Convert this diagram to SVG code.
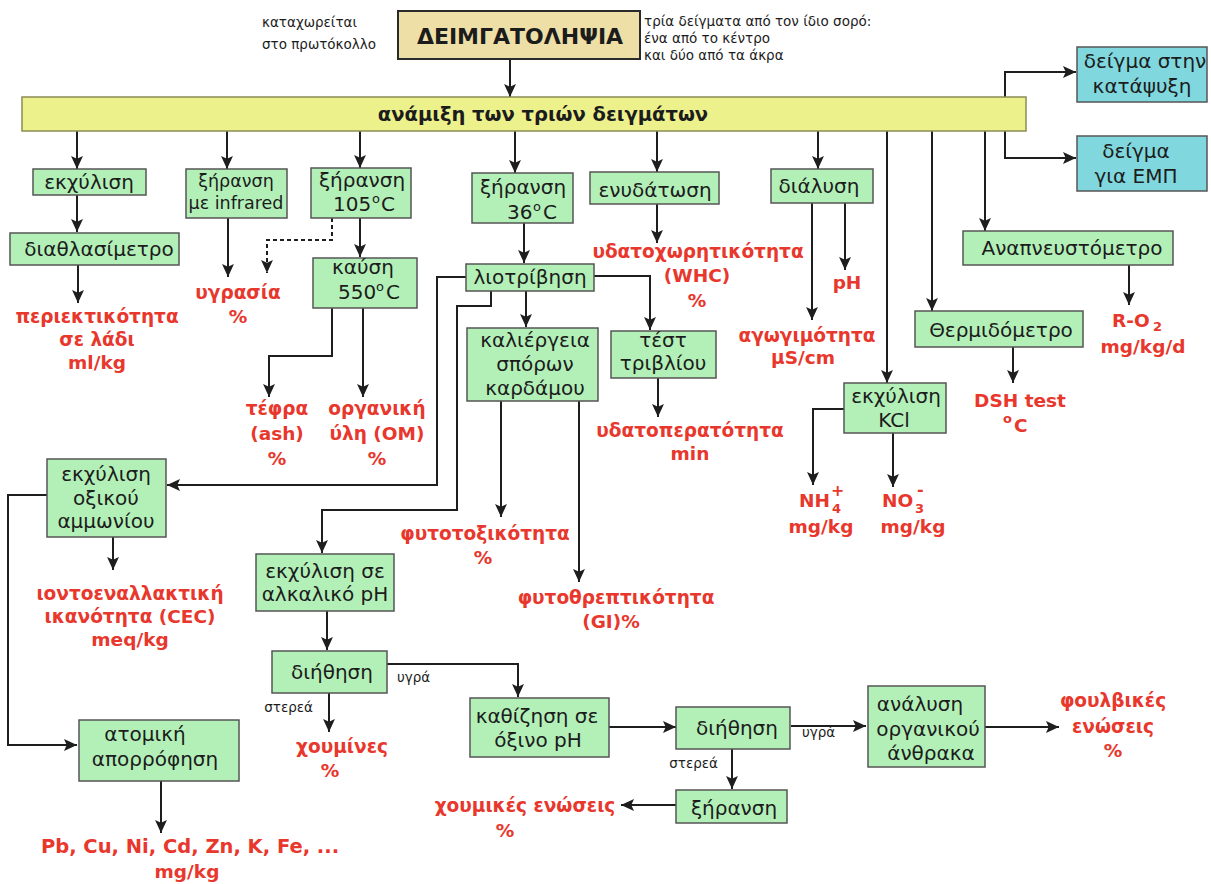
<svg xmlns="http://www.w3.org/2000/svg" width="1211" height="884" viewBox="0 0 1211 884">
  <defs>
    <style>
      .bx { fill: #b3f0b8; stroke: #555; stroke-width: 1.5; }
      .cy { fill: #80d8de; stroke: #555; stroke-width: 1.5; }
      .t { font-family: "DejaVu Sans", "Liberation Sans", sans-serif; font-size: 20px; fill: #1c1c1c; text-anchor: middle; }
      .ts { font-family: "DejaVu Sans", "Liberation Sans", sans-serif; font-size: 20px; fill: #1c1c1c; }
      .sup { font-family: "DejaVu Sans", "Liberation Sans", sans-serif; font-size: 13px; fill: #1c1c1c; }
      .s { font-family: "DejaVu Sans", "Liberation Sans", sans-serif; font-size: 13.5px; fill: #1c1c1c; }
      .r { font-family: "DejaVu Sans", "Liberation Sans", sans-serif; font-size: 18.5px; font-weight: bold; fill: #e8372c; text-anchor: middle; }
      .rs { font-family: "DejaVu Sans", "Liberation Sans", sans-serif; font-weight: bold; fill: #e8372c; }
      .ln { fill: none; stroke: #1e1e1e; stroke-width: 2; marker-end: url(#ah); }
      .dash { stroke-dasharray: 4 3; }
    </style>
    <marker id="ah" viewBox="0 0 12 12" refX="12" refY="6" markerWidth="13" markerHeight="13" markerUnits="userSpaceOnUse" orient="auto">
      <path d="M0,0.5 L12,6 L0,11.5 L2.5,6 z" fill="#1e1e1e"/>
    </marker>
  </defs>

  <rect width="1211" height="884" fill="#ffffff"/>

  <!-- notes around the sampling box -->
  <g id="notes">
    <text class="s" x="262" y="27">καταχωρείται</text>
    <text class="s" x="262" y="49">στο πρωτόκολλο</text>
    <text class="s" x="644" y="26">τρία δείγματα από τον ίδιο σορό:</text>
    <text class="s" x="644" y="43">ένα από το κέντρο</text>
    <text class="s" x="644" y="60">και δύο από τα άκρα</text>
  </g>

  <!-- connectors -->
  <g id="connectors">
    <path class="ln" d="M510,59 V97"/>
    <path class="ln" d="M1005,97 V72 H1076"/>
    <path class="ln" d="M1005,131 V158 H1076"/>
    <path class="ln" d="M77,131 V169"/>
    <path class="ln" d="M227,131 V169"/>
    <path class="ln" d="M360,131 V168"/>
    <path class="ln" d="M515,131 V173"/>
    <path class="ln" d="M657,131 V172"/>
    <path class="ln" d="M818,131 V169"/>
    <path class="ln" d="M887,131 V383"/>
    <path class="ln" d="M932,131 V311"/>
    <path class="ln" d="M985,131 V231"/>
    <path class="ln" d="M77,195 V232"/>
    <path class="ln" d="M78,265 V303"/>
    <path class="ln" d="M228,218 V277"/>
    <path class="ln dash" d="M332,218 V240 H267 V273"/>
    <path class="ln" d="M360,218 V257"/>
    <path class="ln" d="M332,308 V356 H269 V397"/>
    <path class="ln" d="M363,308 V397"/>
    <path class="ln" d="M524,223 V263"/>
    <path class="ln" d="M594,276 H650 V330"/>
    <path class="ln" d="M526,291 V327"/>
    <path class="ln" d="M466,277 H437 V485 H167"/>
    <path class="ln" d="M491,291 V306 H457 V510 H322 V553"/>
    <path class="ln" d="M501,401 V517"/>
    <path class="ln" d="M579,401 V582"/>
    <path class="ln" d="M658,378 V417"/>
    <path class="ln" d="M657,204 V243"/>
    <path class="ln" d="M812,203 V320"/>
    <path class="ln" d="M845,203 V270"/>
    <path class="ln" d="M844,409 H813 V485"/>
    <path class="ln" d="M893,433 V487"/>
    <path class="ln" d="M1013,347 V383"/>
    <path class="ln" d="M1129,265 V305"/>
    <path class="ln" d="M113,537 V570"/>
    <path class="ln" d="M47,495 H8 V745 H77"/>
    <path class="ln" d="M161,781 V833"/>
    <path class="ln" d="M327,611 V650"/>
    <path class="ln" d="M387,664 H518 V697"/>
    <path class="ln" d="M329,693 V732"/>
    <path class="ln" d="M609,727 H676"/>
    <path class="ln" d="M791,726 H866"/>
    <path class="ln" d="M732,749 V789"/>
    <path class="ln" d="M676,805 H621"/>
    <path class="ln" d="M985,727 H1059"/>
  </g>

  <!-- edge labels -->
  <g id="edge-labels">
    <text class="s" x="397" y="682">υγρά</text>
    <text class="s" x="313" y="712" text-anchor="end">στερεά</text>
    <text class="s" x="802" y="737">υγρά</text>
    <text class="s" x="718" y="768" text-anchor="end">στερεά</text>
  </g>

  <!-- process nodes -->
  <g id="sampling">
    <rect x="398" y="11" width="242" height="48" fill="#eedfa6" stroke="#2a2a2a" stroke-width="2"/>
    <text class="t" x="520" y="44" style="font-size:22px;font-weight:bold">ΔΕΙΜΓΑΤΟΛΗΨΙΑ</text>
  </g>
  <g id="mixing">
    <rect x="22" y="97" width="1004" height="34" fill="#edf18c" stroke="#8c8c55" stroke-width="1.5"/>
    <text class="t" x="543" y="121" style="font-size:19.5px;font-weight:bold">ανάμιξη των τριών δειγμάτων</text>
  </g>
  <g id="freezer">
    <rect class="cy" x="1077" y="47" width="130" height="55"/>
    <text class="t" x="1145" y="68">δείγμα στην</text>
    <text class="t" x="1142" y="93">κατάψυξη</text>
  </g>
  <g id="emp-sample">
    <rect class="cy" x="1077" y="136" width="130" height="55"/>
    <text class="t" x="1136" y="158">δείγμα</text>
    <text class="t" x="1136" y="183">για ΕΜΠ</text>
  </g>
  <g id="extraction">
    <rect class="bx" x="33" y="169" width="113" height="26"/>
    <text class="t" x="89" y="189">εκχύλιση</text>
  </g>
  <g id="refractometer">
    <rect class="bx" x="10" y="233" width="169" height="32"/>
    <text class="t" x="99" y="256">διαθλασίμετρο</text>
  </g>
  <g id="infrared">
    <rect class="bx" x="186" y="169" width="101" height="49"/>
    <text class="t" x="236" y="187" style="font-size:17.5px">ξήρανση</text>
    <text class="t" x="236" y="209" style="font-size:17.5px">με infrared</text>
  </g>
  <g id="dry105">
    <rect class="bx" x="311" y="168" width="100" height="50"/>
    <text class="t" x="362" y="187">ξήρανση</text>
    <text class="ts" x="333" y="211">105</text>
    <text class="sup" x="372" y="203">o</text>
    <text class="ts" x="381" y="211">C</text>
  </g>
  <g id="burn550">
    <rect class="bx" x="313" y="258" width="104" height="50"/>
    <text class="t" x="363" y="274">καύση</text>
    <text class="ts" x="338" y="299">550</text>
    <text class="sup" x="376" y="291">o</text>
    <text class="ts" x="386" y="299">C</text>
  </g>
  <g id="dry36">
    <rect class="bx" x="472" y="173" width="101" height="50"/>
    <text class="t" x="523" y="194">ξήρανση</text>
    <text class="ts" x="507" y="219">36</text>
    <text class="sup" x="533" y="211">o</text>
    <text class="ts" x="543" y="219">C</text>
  </g>
  <g id="grinding">
    <rect class="bx" x="466" y="264" width="128" height="27"/>
    <text class="t" x="530" y="284">λιοτρίβηση</text>
  </g>
  <g id="cress">
    <rect class="bx" x="467" y="328" width="131" height="73"/>
    <text class="t" x="535" y="347">καλιέργεια</text>
    <text class="t" x="535" y="371">σπόρων</text>
    <text class="t" x="535" y="395">καρδάμου</text>
  </g>
  <g id="petri">
    <rect class="bx" x="611" y="331" width="105" height="47"/>
    <text class="t" x="663" y="347">τέστ</text>
    <text class="t" x="663" y="370">τριβλίου</text>
  </g>
  <g id="hydration">
    <rect class="bx" x="590" y="172" width="129" height="32"/>
    <text class="t" x="655" y="197">ενυδάτωση</text>
  </g>
  <g id="dissolution">
    <rect class="bx" x="771" y="169" width="102" height="34"/>
    <text class="t" x="819" y="193">διάλυση</text>
  </g>
  <g id="kcl">
    <rect class="bx" x="844" y="383" width="102" height="50"/>
    <text class="t" x="896" y="403">εκχύλιση</text>
    <text class="t" x="894" y="427">KCl</text>
  </g>
  <g id="calorimeter">
    <rect class="bx" x="915" y="311" width="168" height="36"/>
    <text class="t" x="1001" y="337">Θερμιδόμετρο</text>
  </g>
  <g id="respirometer">
    <rect class="bx" x="963" y="231" width="210" height="34"/>
    <text class="t" x="1072" y="255">Αναπνευστόμετρο</text>
  </g>
  <g id="ammonium-acetate">
    <rect class="bx" x="47" y="459" width="119" height="78"/>
    <text class="t" x="106" y="481">εκχύλιση</text>
    <text class="t" x="106" y="505">οξικού</text>
    <text class="t" x="106" y="528">αμμωνίου</text>
  </g>
  <g id="alkaline">
    <rect class="bx" x="256" y="554" width="138" height="57"/>
    <text class="t" x="325" y="578">εκχύλιση σε</text>
    <text class="t" x="325" y="601">αλκαλικό pH</text>
  </g>
  <g id="filtration1">
    <rect class="bx" x="272" y="651" width="115" height="42"/>
    <text class="t" x="332" y="679">διήθηση</text>
  </g>
  <g id="atomic">
    <rect class="bx" x="79" y="720" width="160" height="61"/>
    <text class="t" x="145" y="741">ατομική</text>
    <text class="t" x="155" y="766">απορρόφηση</text>
  </g>
  <g id="acid">
    <rect class="bx" x="470" y="698" width="139" height="59"/>
    <text class="t" x="537" y="723">καθίζηση σε</text>
    <text class="t" x="538" y="747">όξινο pH</text>
  </g>
  <g id="filtration2">
    <rect class="bx" x="676" y="707" width="114" height="42"/>
    <text class="t" x="737" y="735">διήθηση</text>
  </g>
  <g id="drying">
    <rect class="bx" x="676" y="790" width="111" height="33"/>
    <text class="t" x="734" y="815">ξήρανση</text>
  </g>
  <g id="toc">
    <rect class="bx" x="868" y="686" width="117" height="81"/>
    <text class="t" x="920" y="711">ανάλυση</text>
    <text class="t" x="928" y="736">οργανικού</text>
    <text class="t" x="931" y="760">άνθρακα</text>
  </g>

  <!-- measured results -->
  <g id="oil">
    <text class="r" x="97" y="323">περιεκτικότητα</text>
    <text class="r" x="97" y="346">σε λάδι</text>
    <text class="r" x="97" y="369">ml/kg</text>
  </g>
  <g id="moisture">
    <text class="r" x="238" y="299">υγρασία</text>
    <text class="r" x="238" y="323">%</text>
  </g>
  <g id="ash">
    <text class="r" x="277" y="415">τέφρα</text>
    <text class="r" x="277" y="440">(ash)</text>
    <text class="r" x="277" y="465">%</text>
  </g>
  <g id="om">
    <text class="r" x="377" y="415">οργανική</text>
    <text class="r" x="377" y="440">ύλη (OM)</text>
    <text class="r" x="377" y="465">%</text>
  </g>
  <g id="whc">
    <text class="r" x="698" y="258">υδατοχωρητικότητα</text>
    <text class="r" x="697" y="282">(WHC)</text>
    <text class="r" x="697" y="307">%</text>
  </g>
  <g id="ph">
    <text class="r" x="847" y="289">pH</text>
  </g>
  <g id="conductivity">
    <text class="r" x="807" y="342">αγωγιμότητα</text>
    <text class="r" x="803" y="364">μS/cm</text>
  </g>
  <g id="permeability">
    <text class="r" x="690" y="437">υδατοπερατότητα</text>
    <text class="r" x="690" y="460">min</text>
  </g>
  <g id="phytotoxicity">
    <text class="r" x="485" y="540">φυτοτοξικότητα</text>
    <text class="r" x="483" y="564">%</text>
  </g>
  <g id="germination">
    <text class="r" x="616" y="604">φυτοθρεπτικότητα</text>
    <text class="r" x="611" y="628">(GI)%</text>
  </g>
  <g id="ammonium">
    <text class="rs" x="799" y="507" style="font-size:18.5px">NH</text>
    <text class="rs" x="832" y="513" style="font-size:13px">4</text>
    <text class="rs" x="831" y="496" style="font-size:16px">+</text>
    <text class="r" x="821" y="533">mg/kg</text>
  </g>
  <g id="nitrate">
    <text class="rs" x="882" y="507" style="font-size:18.5px">NO</text>
    <text class="rs" x="915" y="513" style="font-size:13px">3</text>
    <text class="rs" x="917" y="495" style="font-size:16px">-</text>
    <text class="r" x="913" y="533">mg/kg</text>
  </g>
  <g id="dsh">
    <text class="r" x="1020" y="407">DSH test</text>
    <text class="rs" x="1003" y="423" style="font-size:13px">o</text>
    <text class="rs" x="1014" y="432" style="font-size:18.5px">C</text>
  </g>
  <g id="respiration">
    <text class="rs" x="1112" y="327" style="font-size:18.5px">R-O</text>
    <text class="rs" x="1153" y="331" style="font-size:13px">2</text>
    <text class="r" x="1143" y="353">mg/kg/d</text>
  </g>
  <g id="cec">
    <text class="r" x="130" y="600">ιοντοεναλλακτική</text>
    <text class="r" x="130" y="623">ικανότητα (CEC)</text>
    <text class="r" x="130" y="646">meq/kg</text>
  </g>
  <g id="humins">
    <text class="r" x="342" y="753">χουμίνες</text>
    <text class="r" x="330" y="777">%</text>
  </g>
  <g id="metals">
    <text class="r" x="190" y="853" style="font-size:19.5px">Pb, Cu, Ni, Cd, Zn, K, Fe, ...</text>
    <text class="r" x="187" y="878">mg/kg</text>
  </g>
  <g id="humic">
    <text class="r" x="525" y="812">χουμικές ενώσεις</text>
    <text class="r" x="505" y="837">%</text>
  </g>
  <g id="fulvic">
    <text class="r" x="1113" y="707">φουλβικές</text>
    <text class="r" x="1113" y="733">ενώσεις</text>
    <text class="r" x="1113" y="757">%</text>
  </g>
</svg>
